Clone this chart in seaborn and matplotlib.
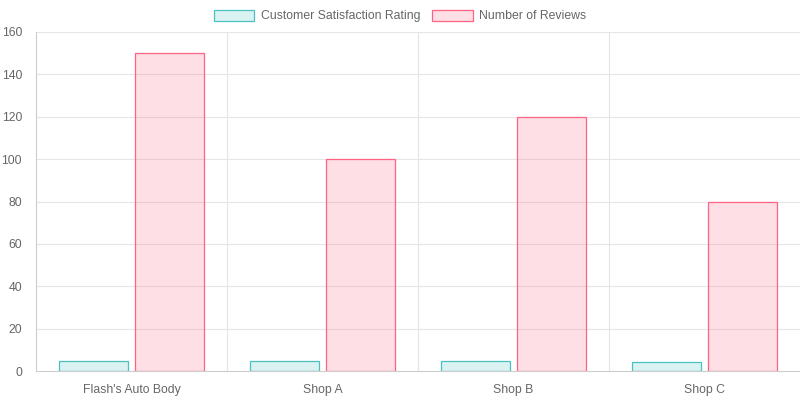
import pandas as pd
import matplotlib.pyplot as plt
import seaborn as sns
from matplotlib.patches import Patch

shops = ["Flash's Auto Body", "Shop A", "Shop B", "Shop C"]
satisfaction = [4.8, 4.5, 4.7, 4.3]
reviews = [150, 100, 120, 80]
series_names = ["Customer Satisfaction Rating", "Number of Reviews"]

df = pd.DataFrame({
    "shop": shops * 2,
    "value": satisfaction + reviews,
    "series": [series_names[0]] * len(shops) + [series_names[1]] * len(shops),
})

sns.set_style("white")
plt.rcParams['font.family'] = ['Liberation Sans', 'DejaVu Sans']

fills = [(75/255, 192/255, 192/255, 0.2), (255/255, 99/255, 132/255, 0.2)]
edges = [(75/255, 192/255, 192/255), (255/255, 99/255, 132/255)]
grid_c = "#e5e5e5"
text_c = "#666666"
fs = 8.8

fig = plt.figure(figsize=(8, 4), dpi=100)
ax = fig.add_axes([36/800, 29/400, 764/800, 339/400])

sns.barplot(data=df, x="shop", y="value", hue="series", hue_order=series_names,
            width=0.8, gap=0.1, ax=ax, legend=False, errorbar=None)

# style bars per series
for i, container in enumerate(ax.containers):
    for bar in container:
        bar.set_facecolor(fills[i])
        bar.set_edgecolor(edges[i])
        bar.set_linewidth(0.9)

ax.set_ylim(0, 160)
ax.set_yticks(range(0, 161, 20))
ax.set_xlim(-0.5, len(shops) - 0.5)
ax.set_xlabel("")
ax.set_ylabel("")

# grid: horizontal at y ticks, vertical at category boundaries
for y in range(20, 161, 20):
    ax.axhline(y, color=grid_c, lw=0.8, zorder=0)
for x in range(1, len(shops)):
    ax.axvline(x - 0.5, color=grid_c, lw=0.8, zorder=0)
ax.set_axisbelow(True)

for s in ["top", "right"]:
    ax.spines[s].set_visible(False)
for s in ["left", "bottom"]:
    ax.spines[s].set_color("#cccccc")
    ax.spines[s].set_linewidth(0.8)

ax.tick_params(axis="y", length=6, width=0.8, color="#dddddd", labelcolor=text_c, labelsize=fs, pad=4)
ax.tick_params(axis="x", length=0, labelcolor=text_c, labelsize=fs, pad=9)
# x tick marks at category boundaries
ax.set_xticks([x - 0.5 for x in range(len(shops) + 1)], minor=True)
ax.tick_params(axis="x", which="minor", length=6, width=0.8, color="#dddddd")

handles = [Patch(facecolor=fills[i], edgecolor=edges[i], linewidth=0.9, label=series_names[i])
           for i in range(2)]
fig.legend(handles=handles, loc="center", bbox_to_anchor=(0.5, 0.96), ncol=2, frameon=False,
           fontsize=fs, labelcolor=text_c, handlelength=3.3, handleheight=1.05,
           columnspacing=1.0, handletextpad=0.5)

fig.savefig("out.png", dpi=100)
